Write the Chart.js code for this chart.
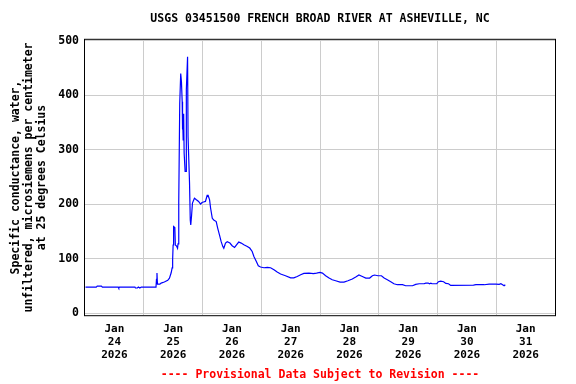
<!DOCTYPE html>
<html lang="en">
<head>
  <meta charset="utf-8">
  <title>USGS 03451500 French Broad River at Asheville, NC</title>
  <script src="https://cdn.jsdelivr.net/npm/chart.js@4.4.1/dist/chart.umd.min.js"></script>
  <style>
    body { margin: 0; background: #fff; }
  </style>
</head>
<body>
  <canvas id="chart" width="576" height="384"></canvas>
  <script>
    // hours since Jan 24 2026 00:00
    const hours = [
      0.2, 4.6, 5.0, 6.7, 7.1, 13.6, 13.8, 14.1, 20.4, 20.6, 21.4, 21.8, 22.4, 23.0,
      29.0, 29.2, 29.4, 29.6, 30.6, 31.1, 32.4, 33.8, 34.5, 35.2, 35.6, 35.8, 36.0,
      36.2, 36.7, 36.9, 37.4, 37.8, 38.0, 38.3, 38.7, 39.1, 39.4, 39.7, 39.8, 39.9,
      40.1, 40.3, 40.5, 40.9, 41.3, 41.4, 41.9, 42.1, 42.7, 43.0, 43.2, 43.5, 43.9,
      44.7, 45.5, 46.4, 47.2, 47.8, 48.4, 49.2, 49.9, 50.3, 50.9, 51.3, 52.0, 52.6,
      53.6, 54.2, 54.9, 55.6, 56.3, 56.7, 57.4, 58.1, 59.2, 60.1, 61.1, 61.9, 62.8,
      63.8, 64.9, 66.3, 67.3, 68.3, 69.0, 70.0, 70.8, 71.7, 73.1, 74.5, 75.8, 77.2,
      78.5, 79.9, 81.9, 84.0, 85.3, 86.7, 88.1, 89.4, 91.5, 93.3, 94.6, 96.0, 97.0,
      98.3, 99.7, 101.0, 102.4, 104.2, 105.8, 107.4, 109.2, 110.6, 111.9, 113.3,
      114.7, 116.3, 117.4, 118.3, 119.7, 121.1, 122.2, 123.5, 124.9, 126.2, 127.6,
      129.7, 131.0, 133.8, 135.1, 136.5, 138.5, 139.2, 140.2, 140.7, 141.3, 141.7,
      143.7, 144.4, 145.3, 146.5, 147.4, 148.5, 149.4, 158.7, 159.7, 163.1, 165.1,
      167.8, 169.2, 169.9, 170.6, 171.2, 171.7
    ];

    // specific conductance, uS/cm at 25 C
    const conductance = [
      47.7, 47.7, 49.6, 49.6, 47.7, 47.7, 46.0, 47.7, 47.7, 46.0, 46.0, 47.7, 46.0, 47.7,
      47.7, 62.0, 73.4, 53.0, 53.0, 55.0, 57.0, 60.0, 64.0, 74.0, 83.0, 98.0, 125,
      159, 157, 125, 123, 119, 127, 205, 385, 440, 425, 388, 337, 364,
      318, 366, 294, 260, 260, 410, 471, 324, 239, 171, 162, 177, 202,
      211, 208, 205, 200, 203, 204, 205, 216, 216, 208, 193, 174, 171,
      168, 156, 144, 131.5, 122, 119, 128.5, 131, 128.5, 123.6, 120.5, 125.4, 130.4,
      128.5, 125.4, 122.3, 119.4, 113, 104, 94.8, 86.9, 84.5, 83.2, 83.8, 83.2, 79.5,
      75.3, 71.6, 68.5, 64.5, 64.5, 67.2, 70.3, 72.7, 73.3, 72.4, 73.3, 74.6, 73.3,
      68.5, 64.3, 61.1, 59.3, 56.9, 56.9, 59.3, 62.4, 66.1, 69.8, 67.2,
      64.3, 64.3, 68.5, 69.8, 68.5, 68.5, 64.3, 61.1, 57.5, 53.8, 52,
      52, 50.1, 50.1, 52.6, 53.8, 53.8, 55, 55, 53.8, 55, 53.8,
      53.8, 57.5, 58.7, 57.5, 54.4, 53.8, 50.7, 51.4, 52, 52, 53.2,
      53.2, 52.6, 53.8, 52, 50.1, 52
    ];

    const month = 'Jan';
    const year = '2026';
    const dayLabels = ['24', '25', '26', '27', '28', '29', '30', '31'];
    const yTicks = [0, 100, 200, 300, 400, 500];

    const titleText = 'USGS 03451500 FRENCH BROAD RIVER AT ASHEVILLE, NC';
    const footerText = '---- Provisional Data Subject to Revision ----';
    const yTitle = [
      'Specific conductance, water,',
      'unfiltered, microsiemens per centimeter',
      'at 25 degrees Celsius'
    ];

    const points = hours.map((h, i) => ({ x: h, y: conductance[i] }));
    // a tick every 12 hours: labels at noon, grid lines at midnight
    const xTicks = [];
    for (let h = 0; h <= dayLabels.length * 24; h += 12) xTicks.push(h);

    // black box round the plot area
    const frame = {
      id: 'frame',
      afterDatasetsDraw(chart) {
        const a = chart.chartArea;
        const ctx = chart.ctx;
        ctx.save();
        ctx.strokeStyle = '#000';
        ctx.lineWidth = 1;
        ctx.strokeRect(a.left - 0.5, a.top - 0.5, a.right - a.left + 1, a.bottom - a.top + 1);
        ctx.restore();
      }
    };

    Chart.defaults.font.family = "'DejaVu Sans Mono', monospace";
    Chart.defaults.font.weight = 'bold';
    Chart.defaults.font.size = 11;
    Chart.defaults.color = '#000';

    new Chart(document.getElementById('chart'), {
      type: 'line',
      data: {
        datasets: [{
          data: points,
          borderColor: '#0000ff',
          borderWidth: 1.2,
          pointRadius: 0,
          tension: 0,
          fill: false
        }]
      },
      options: {
        responsive: false,
        devicePixelRatio: 1,
        animation: false,
        layout: { padding: { left: 0, right: 21, top: 0, bottom: 0 } },
        plugins: {
          legend: { display: false },
          tooltip: { enabled: false },
          title: {
            display: true,
            text: titleText,
            fullSize: false,
            font: { size: 11.5, weight: 'bold' },
            padding: { top: 12, bottom: 14 }
          },
          subtitle: {
            display: true,
            position: 'bottom',
            text: footerText,
            color: '#ff0000',
            fullSize: false,
            font: { size: 11.5, weight: 'bold' },
            padding: { top: 0, bottom: 2 }
          }
        },
        scales: {
          x: {
            type: 'linear',
            min: 0,
            max: dayLabels.length * 24,
            afterBuildTicks: (scale) => { scale.ticks = xTicks.map(v => ({ value: v })); },
            afterFit: (scale) => { scale.height = 53; },
            border: { display: false },
            grid: {
              drawTicks: false,
              color: (ctx) => {
                const v = ctx.tick ? ctx.tick.value : 0;
                return (v % 24 === 0 && v > 0 && v < dayLabels.length * 24) ? '#cccccc' : 'rgba(0,0,0,0)';
              }
            },
            ticks: {
              autoSkip: false,
              maxRotation: 0,
              padding: 8,
              font: { lineHeight: 1.16 },
              callback: (v) => {
                if (v % 24 !== 12) return '';
                return [month, dayLabels[Math.floor(v / 24)], year];
              }
            }
          },
          y: {
            min: -4,
            max: 502,
            afterBuildTicks: (scale) => { scale.ticks = yTicks.map(v => ({ value: v })); },
            afterFit: (scale) => { scale.width = 85; },
            border: { display: false },
            grid: { drawTicks: false, color: '#cccccc' },
            ticks: { padding: 6, font: { size: 11.5 } },
            title: {
              display: true,
              text: yTitle,
              font: { size: 11.5, lineHeight: 1.1 },
              padding: { top: 10, bottom: 0 }
            }
          }
        }
      },
      plugins: [frame]
    });
  </script>
</body>
</html>
